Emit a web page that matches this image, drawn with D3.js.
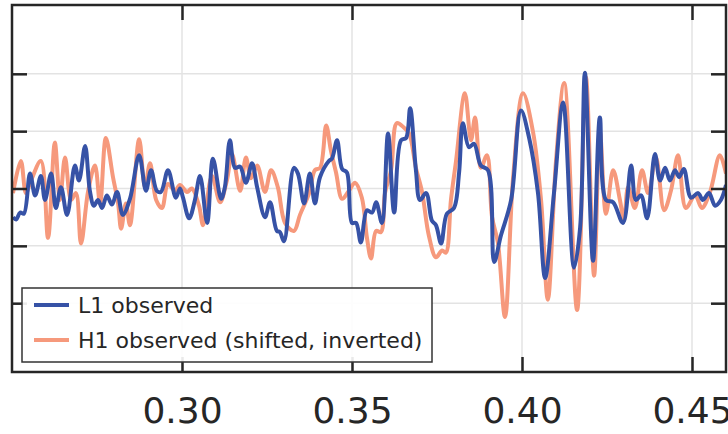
<!DOCTYPE html>
<html>
<head>
<meta charset="utf-8">
<script src="https://cdn.jsdelivr.net/npm/d3@7"></script>
<style>
  html, body { margin: 0; padding: 0; background: #fff; }
  svg { display: block; font-family: "DejaVu Sans", sans-serif; }
</style>
</head>
<body>
<svg id="chart" width="728" height="434"></svg>
<script>
// --- data (time in s, strain in 1e-21) ---
const l1Time = [0.2503, 0.2512, 0.2524, 0.2535, 0.2553, 0.2568, 0.2585, 0.2597, 0.2615, 0.2629,
  0.2644, 0.2662, 0.2685, 0.2697, 0.2715, 0.2729, 0.2741, 0.2753, 0.2765, 0.2779,
  0.2794, 0.2809, 0.2826, 0.2847, 0.2874, 0.2894, 0.2909, 0.2926, 0.2938, 0.2959,
  0.2982, 0.2994, 0.3003, 0.3021, 0.3038, 0.3053, 0.3074, 0.3091, 0.3115, 0.3126,
  0.3141, 0.3156, 0.3171, 0.3188, 0.3206, 0.3221, 0.3244, 0.3259, 0.3279, 0.3288,
  0.3300, 0.3329, 0.3341, 0.3359, 0.3376, 0.3391, 0.3406, 0.3432, 0.3441, 0.3456,
  0.3471, 0.3485, 0.3500, 0.3512, 0.3526, 0.3544, 0.3559, 0.3571, 0.3588, 0.3606,
  0.3624, 0.3644, 0.3659, 0.3671, 0.3688, 0.3700, 0.3718, 0.3735, 0.3747, 0.3762,
  0.3779, 0.3800, 0.3815, 0.3826, 0.3844, 0.3859, 0.3879, 0.3900, 0.3918, 0.3938,
  0.3968, 0.3997, 0.4021, 0.4047, 0.4068, 0.4094, 0.4121, 0.4153, 0.4171, 0.4185,
  0.4209, 0.4229, 0.4247, 0.4268, 0.4297, 0.4321, 0.4335, 0.4350, 0.4368, 0.4391,
  0.4406, 0.4421, 0.4435, 0.4450, 0.4462, 0.4476, 0.4497, 0.4518, 0.4532, 0.4550,
  0.4568, 0.4585, 0.4600];
const l1Strain = [-0.25, -0.27, -0.21, -0.22, 0.13, -0.06, 0.11, -0.10, 0.13, -0.17,
  0.01, -0.23, 0.20, 0.07, 0.37, -0.02, -0.15, -0.10, -0.17, -0.06,
  -0.14, -0.03, -0.23, -0.09, 0.29, -0.02, 0.16, -0.02, -0.03, 0.16,
  -0.08, 0.00, -0.08, -0.26, -0.10, 0.11, -0.30, 0.26, -0.09, 0.01,
  0.42, 0.18, 0.19, 0.05, 0.22, 0.01, -0.25, -0.12, -0.37, -0.38,
  -0.46, 0.18, 0.13, -0.13, 0.13, -0.13, 0.10, 0.24, 0.26, 0.42,
  0.17, 0.14, -0.30, -0.30, -0.47, -0.19, -0.21, -0.12, -0.30, 0.48,
  -0.21, 0.42, 0.44, 0.70, 0.16, -0.10, -0.04, -0.28, -0.32, -0.48,
  -0.22, -0.17, 0.14, 0.57, 0.36, 0.39, 0.20, 0.16, -0.64, -0.41,
  -0.10, 0.68, 0.44, -0.04, -0.78, -0.04, 0.75, -0.69, -0.34, 1.01,
  -0.63, 0.62, -0.10, -0.12, -0.30, 0.20, -0.10, -0.06, -0.26, 0.30,
  0.07, 0.18, 0.07, 0.16, 0.10, 0.17, -0.08, -0.04, -0.10, -0.04,
  -0.15, -0.10, 0.03];

const h1Time = [0.2503, 0.2526, 0.2541, 0.2556, 0.2585, 0.2606, 0.2626, 0.2641, 0.2656, 0.2674,
  0.2688, 0.2703, 0.2724, 0.2744, 0.2759, 0.2776, 0.2797, 0.2812, 0.2821, 0.2835,
  0.2847, 0.2874, 0.2891, 0.2906, 0.2924, 0.2941, 0.2959, 0.2979, 0.2994, 0.3015,
  0.3029, 0.3050, 0.3062, 0.3088, 0.3112, 0.3132, 0.3147, 0.3171, 0.3188, 0.3203,
  0.3221, 0.3244, 0.3262, 0.3282, 0.3303, 0.3329, 0.3347, 0.3374, 0.3391, 0.3406,
  0.3424, 0.3438, 0.3453, 0.3471, 0.3491, 0.3509, 0.3529, 0.3544, 0.3556, 0.3571,
  0.3585, 0.3597, 0.3615, 0.3632, 0.3653, 0.3668, 0.3688, 0.3706, 0.3726, 0.3747,
  0.3765, 0.3776, 0.3791, 0.3806, 0.3832, 0.3850, 0.3862, 0.3879, 0.3897, 0.3912,
  0.3929, 0.3950, 0.3974, 0.4003, 0.4032, 0.4056, 0.4076, 0.4100, 0.4124, 0.4162,
  0.4188, 0.4212, 0.4229, 0.4247, 0.4268, 0.4288, 0.4300, 0.4312, 0.4332, 0.4353,
  0.4371, 0.4394, 0.4418, 0.4438, 0.4459, 0.4482, 0.4509, 0.4529, 0.4553, 0.4582,
  0.4600];
const h1Strain = [-0.04, 0.24, -0.04, 0.07, 0.24, -0.43, 0.40, -0.10, 0.27, -0.10,
  -0.04, -0.48, -0.02, 0.20, -0.13, 0.44, 0.10, -0.13, -0.35, -0.13,
  -0.32, 0.43, 0.01, 0.22, -0.10, -0.17, 0.04, -0.02, 0.03, -0.03,
  0.00, -0.15, -0.32, 0.11, -0.12, 0.07, 0.30, -0.02, 0.27, 0.09,
  0.20, -0.03, 0.16, 0.01, -0.30, -0.37, -0.23, -0.04, 0.16, 0.18,
  0.55, 0.33, 0.14, -0.09, -0.02, 0.05, -0.08, -0.43, -0.61, -0.37,
  -0.38, -0.04, 0.16, 0.57, 0.53, 0.48, 0.18, -0.03, -0.41, -0.60,
  -0.54, -0.56, -0.10, 0.24, 0.83, 0.42, 0.62, 0.18, 0.29, -0.25,
  -0.47, -1.12, 0.10, 0.83, 0.50, -0.10, -0.97, 0.24, 0.92, -1.06,
  0.97, -0.76, 0.50, -0.22, 0.16, -0.10, -0.28, 0.01, -0.17, 0.16,
  -0.04, 0.27, -0.19, -0.02, 0.29, -0.17, -0.06, -0.17, -0.03, 0.29,
  0.13];

const xTicks = [0.30, 0.35, 0.40, 0.45];
const yTicks = [-1.0, -0.5, 0, 0.5, 1.0];
const seriesNames = ['L1 observed', 'H1 observed (shifted, inverted)'];
const seriesColors = ['#3652a6', '#f6997c'];

// --- layout ---
const svg = d3.select('#chart');
const plot = { left: 12, right: 726, top: 5, bottom: 372 };

const x = d3.scaleLinear().domain([0.25, 0.46]).range([plot.left, plot.right]);
const y = d3.scaleLinear().domain([-1.6, 1.6]).range([plot.bottom, plot.top]);

svg.append('defs').append('clipPath').attr('id', 'clip')
  .append('rect')
  .attr('x', plot.left).attr('y', plot.top)
  .attr('width', plot.right - plot.left).attr('height', plot.bottom - plot.top);

// grid
const grid = svg.append('g').attr('stroke', '#e3e3e3').attr('stroke-width', 1.5);
grid.selectAll('line.gx').data(xTicks).join('line')
  .attr('x1', d => x(d)).attr('x2', d => x(d))
  .attr('y1', plot.top).attr('y2', plot.bottom);
grid.selectAll('line.gy').data(yTicks).join('line')
  .attr('y1', d => y(d)).attr('y2', d => y(d))
  .attr('x1', plot.left).attr('x2', plot.right);

// lines
const line = d3.line().curve(d3.curveCatmullRom.alpha(0.5));
const lines = svg.append('g').attr('clip-path', 'url(#clip)');

lines.append('path')
  .attr('d', line(h1Time.map((t, i) => [x(t), y(h1Strain[i])])))
  .attr('fill', 'none').attr('stroke', seriesColors[1])
  .attr('stroke-width', 4).attr('stroke-linejoin', 'round');

lines.append('path')
  .attr('d', line(l1Time.map((t, i) => [x(t), y(l1Strain[i])])))
  .attr('fill', 'none').attr('stroke', seriesColors[0])
  .attr('stroke-width', 4).attr('stroke-linejoin', 'round');

// axes (ticks inward on all four sides)
const tickLen = 15;
const axisColor = '#262626';

const xBottom = d3.axisBottom(x).tickValues(xTicks).tickSize(-tickLen).tickPadding(tickLen + 10)
  .tickFormat(d3.format('.2f'));
const gxb = svg.append('g').attr('transform', `translate(0,${plot.bottom})`).call(xBottom);
const xTop = d3.axisTop(x).tickValues(xTicks).tickSize(-tickLen).tickFormat('');
const gxt = svg.append('g').attr('transform', `translate(0,${plot.top})`).call(xTop);
const yLeft = d3.axisLeft(y).tickValues(yTicks).tickSize(-tickLen).tickFormat('');
const gyl = svg.append('g').attr('transform', `translate(${plot.left},0)`).call(yLeft);
const yRight = d3.axisRight(y).tickValues(yTicks).tickSize(-tickLen).tickFormat('');
const gyr = svg.append('g').attr('transform', `translate(${plot.right},0)`).call(yRight);

[gxb, gxt, gyl, gyr].forEach(g => {
  g.select('.domain').remove();
  g.selectAll('.tick line').attr('stroke', axisColor).attr('stroke-width', 2.5);
});
gxb.selectAll('.tick text')
  .attr('fill', axisColor)
  .style('font-family', '"DejaVu Sans", sans-serif')
  .style('font-size', '36px')
  .attr('dy', null).attr('y', 51);

// frame
svg.append('rect')
  .attr('x', plot.left).attr('y', plot.top)
  .attr('width', plot.right - plot.left).attr('height', plot.bottom - plot.top)
  .attr('fill', 'none').attr('stroke', axisColor).attr('stroke-width', 2.5);

// legend
const legend = svg.append('g');
legend.append('rect')
  .attr('x', 22).attr('y', 288).attr('width', 410).attr('height', 74)
  .attr('fill', '#fff').attr('fill-opacity', 0.9)
  .attr('stroke', '#333').attr('stroke-width', 1.5);

const items = legend.selectAll('g.item').data(seriesNames).join('g')
  .attr('transform', (d, i) => `translate(0,${305 + i * 35})`);
items.append('line')
  .attr('x1', 34).attr('x2', 69)
  .attr('stroke', (d, i) => seriesColors[i]).attr('stroke-width', 4);
items.append('text')
  .attr('x', 78).attr('y', 8)
  .attr('fill', axisColor)
  .style('font-size', '22px')
  .text(d => d);
</script>
</body>
</html>
